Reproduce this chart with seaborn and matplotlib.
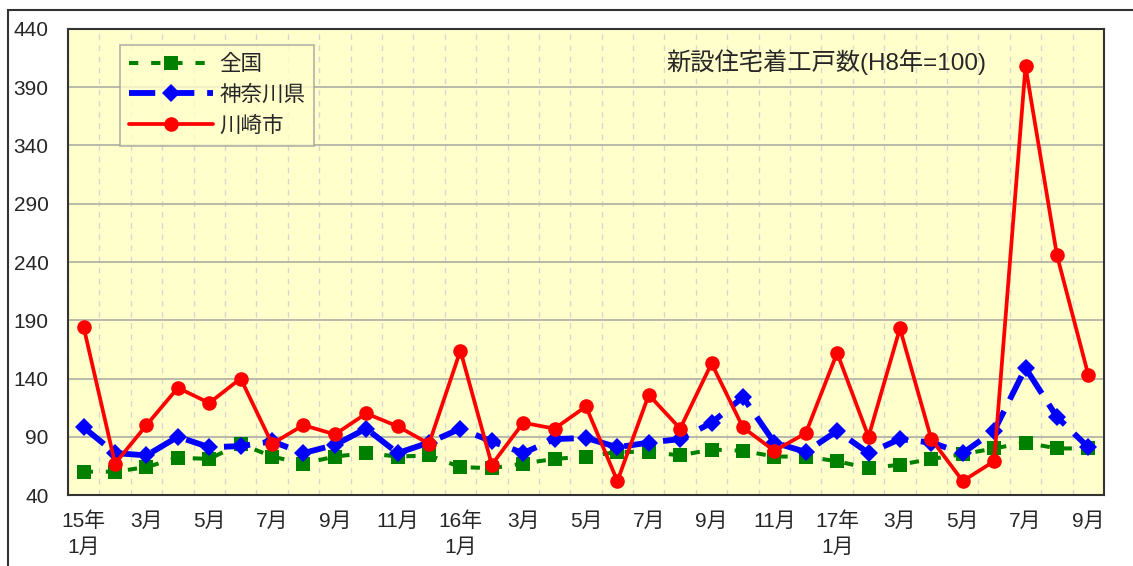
import numpy as np
import pandas as pd
import seaborn as sns
import matplotlib.pyplot as plt
from matplotlib.patches import Rectangle

# H15年1月 - H17年9月 (monthly, H8年=100)
months = ["15年\n1月", "2月", "3月", "4月", "5月", "6月", "7月", "8月", "9月", "10月", "11月", "12月",
          "16年\n1月", "2月", "3月", "4月", "5月", "6月", "7月", "8月", "9月", "10月", "11月", "12月",
          "17年\n1月", "2月", "3月", "4月", "5月", "6月", "7月", "8月", "9月"]
zenkoku = [60, 60, 64, 72, 71, 84, 73, 67, 73, 76, 73, 74,
           64, 63, 67, 71, 73, 77, 77, 74, 79, 78, 73, 73,
           69, 63, 66, 71, 75, 80, 85, 80, 80]
kanagawa = [98, 76, 74, 90, 81, 82, 86, 76, 83, 97, 76, 85,
            97, 86, 76, 88, 89, 81, 85, 88, 102, 124, 85, 77,
            95, 76, 88, 85, 76, 95, 149, 107, 81]
kawasaki = [184, 67, 100, 132, 119, 140, 84, 100, 92, 110, 99, 84,
            164, 66, 102, 97, 116, 52, 126, 97, 153, 98, 78, 93,
            162, 90, 183, 88, 52, 69, 408, 246, 143]

sns.set_style("white")
plt.rcParams["font.family"] = ["Liberation Sans", "Noto Sans CJK JP"]

fig = plt.figure(figsize=(11.33, 5.66), dpi=100)
ax = fig.add_axes([0.060, 0.1254, 0.9144, 0.8234])
ax.set_facecolor("#FFFFCC")

x = np.arange(len(months))
df = pd.DataFrame({"x": x, "全国": zenkoku, "神奈川県": kanagawa, "川崎市": kawasaki})

sns.lineplot(data=df, x="x", y="全国", ax=ax, color="#008000", lw=2.9,
             marker="s", markersize=10, markeredgewidth=0, label="全国", zorder=3)
ax.lines[-1].set_dashes((2.3, 3.2))
sns.lineplot(data=df, x="x", y="神奈川県", ax=ax, color="#0000FF", lw=4.2,
             marker="D", markersize=9, markeredgewidth=0, label="神奈川県", zorder=4)
ax.lines[-1].set_dashes((4.5, 2.2))
sns.lineplot(data=df, x="x", y="川崎市", ax=ax, color="#FF0000", lw=2.7,
             marker="o", markersize=10.5, markeredgewidth=0, label="川崎市", zorder=5)

ax.set_xlim(-0.5, len(months) - 0.5)
ax.set_ylim(40, 440)
ax.set_yticks(np.arange(40, 441, 50))
ax.set_xticks(np.arange(len(months) + 1) - 0.5)
ax.set_xticklabels([])
ax.set_xticks(x[::2], minor=True)
ax.set_xticklabels(months[::2], minor=True, va="top")
for t in ax.get_xticklabels(minor=True):
    t.set_linespacing(1.45)
ax.tick_params(axis="x", which="major", direction="in", length=6, width=1.2, color="#333333")
ax.tick_params(axis="x", which="minor", length=0, pad=12, labelsize=15)
ax.tick_params(axis="y", direction="in", length=7, width=1.2, color="#333333", pad=14, labelsize=15)
ax.set_xlabel("")
ax.set_ylabel("")

ax.grid(True, axis="y", color="#b4b4a8", lw=1.3)
ax.grid(True, axis="x", which="major", color="#d8d8d0", lw=1.0, ls=(0, (4, 4)))
ax.set_axisbelow(True)
for s in ax.spines.values():
    s.set_color("#333333")
    s.set_linewidth(1.5)

leg = ax.legend(loc="upper left", bbox_to_anchor=(0.05, 0.965), borderaxespad=0,
                fancybox=False, frameon=True, handlelength=3.9, fontsize=15.5,
                borderpad=0.42, labelspacing=0.45, handletextpad=0.3)
leg.get_frame().set_facecolor("#FFFFCC")
leg.get_frame().set_edgecolor("#a0a0a0")
leg.get_frame().set_linewidth(1.2)

ax.text(0.578, 0.928, "新設住宅着工戸数(H8年=100)", transform=ax.transAxes,
        fontsize=17.5, ha="left", va="center")

fig.patches.append(Rectangle((0.007, -0.1), 1.2, 1.082, transform=fig.transFigure,
                             fill=False, edgecolor="#333333", lw=1.5))

fig.savefig("out.png", dpi=100)
